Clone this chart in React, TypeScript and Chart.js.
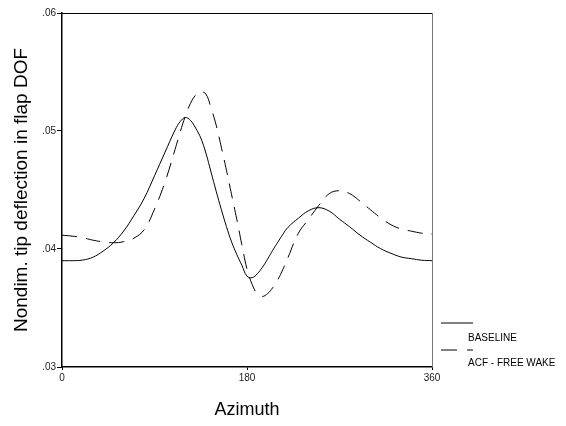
import React, { useEffect, useRef } from "react";
import { Chart, registerables } from "chart.js";

Chart.register(...registerables);

const azimuth = [
  0, 10, 20, 30, 40, 50, 60, 70, 80, 90, 100, 110, 115, 120, 125, 130, 135, 140, 145, 150, 155, 160,
  165, 170, 175, 180, 185, 190, 195, 200, 205, 210, 215, 220, 230, 240, 250, 260, 270, 280, 290, 300,
  310, 320, 330, 340, 350, 360,
];

const baseline = [
  0.03901, 0.03901, 0.03906, 0.0393, 0.03982, 0.04052, 0.04152, 0.04283, 0.0443, 0.0462, 0.04815,
  0.05008, 0.0508, 0.05114, 0.0509, 0.05025, 0.04941, 0.04813, 0.04652, 0.0449, 0.04335, 0.0419,
  0.0406, 0.03955, 0.03862, 0.0377, 0.03757, 0.0379, 0.03845, 0.03914, 0.03989, 0.04058, 0.04126,
  0.04185, 0.04261, 0.04325, 0.0435, 0.04321, 0.04253, 0.04187, 0.04117, 0.04058, 0.04003, 0.03964,
  0.03932, 0.03918, 0.03905, 0.03901,
];

const acfFreeWake = [
  0.04117, 0.04109, 0.04096, 0.04075, 0.0406, 0.04053, 0.04062, 0.04092, 0.04164, 0.04338, 0.04562,
  0.04844, 0.04991, 0.05126, 0.05234, 0.05304, 0.05332, 0.05313, 0.05195, 0.0505, 0.04863, 0.04668,
  0.0446, 0.04255, 0.04035, 0.0383, 0.037, 0.0362, 0.03598, 0.03622, 0.03672, 0.0374, 0.03829,
  0.0393, 0.04134, 0.04253, 0.04371, 0.04469, 0.04494, 0.04469, 0.04405, 0.04333, 0.04265, 0.04206,
  0.0417, 0.04151, 0.04134, 0.04126,
];

const xTicks = [0, 180, 360];
const yTicks = [0.03, 0.04, 0.05, 0.06];
const seriesNames = ["BASELINE", "ACF - FREE WAKE"];
const xTitle = "Azimuth";
const yTitle = "Nondim. tip deflection in flap DOF";

const FONT = "'Liberation Sans', Arial, Helvetica, sans-serif";

const decorPlugin = {
  id: "decor",
  afterDraw(chart: any) {
    const { ctx, chartArea } = chart;
    const { left, right, top, bottom } = chartArea;
    ctx.save();
    ctx.lineWidth = 1;
    ctx.strokeStyle = "#000";
    ctx.beginPath();
    ctx.moveTo(left, top + 0.5);
    ctx.lineTo(right, top + 0.5);
    ctx.stroke();
    ctx.strokeStyle = "#777";
    ctx.beginPath();
    ctx.moveTo(right + 0.5, top);
    ctx.lineTo(right + 0.5, bottom);
    ctx.stroke();

    ctx.fillStyle = "#000";
    ctx.font = `18px ${FONT}`;
    ctx.textAlign = "center";
    ctx.textBaseline = "middle";
    ctx.fillText(xTitle, (left + right) / 2, 410);
    ctx.save();
    ctx.translate(22, (top + bottom) / 2);
    ctx.rotate(-Math.PI / 2);
    ctx.font = `19px ${FONT}`;
    ctx.fillText(yTitle, 0, 0);
    ctx.restore();

    const lx0 = 441;
    const lx1 = 473;
    ctx.strokeStyle = "#000";
    ctx.lineWidth = 1;
    ctx.setLineDash([]);
    ctx.beginPath();
    ctx.moveTo(lx0, 323);
    ctx.lineTo(lx1, 323);
    ctx.stroke();
    ctx.setLineDash([16, 10]);
    ctx.beginPath();
    ctx.moveTo(lx0, 350);
    ctx.lineTo(lx1, 350);
    ctx.stroke();
    ctx.setLineDash([]);
    ctx.font = `10px ${FONT}`;
    ctx.textAlign = "left";
    ctx.fillText(seriesNames[0], 468, 338);
    ctx.fillText(seriesNames[1], 468, 363.5);
    ctx.restore();
  },
};

export default function App() {
  const ref = useRef<HTMLCanvasElement | null>(null);

  useEffect(() => {
    if (!ref.current) return;
    const chart = new Chart(ref.current, {
      type: "line",
      data: {
        datasets: [
          {
            label: seriesNames[0],
            data: azimuth.map((a, i) => ({ x: a, y: baseline[i] })),
            borderColor: "#000",
            borderWidth: 1,
            pointRadius: 0,
            fill: false,
            tension: 0.4,
          },
          {
            label: seriesNames[1],
            data: azimuth.map((a, i) => ({ x: a, y: acfFreeWake[i] })),
            borderColor: "#000",
            borderWidth: 1,
            borderDash: [15, 9],
            pointRadius: 0,
            fill: false,
            tension: 0.4,
          },
        ],
      },
      options: {
        responsive: false,
        animation: false,
        devicePixelRatio: 1,
        layout: { padding: { left: 0, right: 134, top: 13, bottom: 0 } },
        plugins: {
          legend: { display: false },
          tooltip: { enabled: false },
        },
        scales: {
          x: {
            type: "linear",
            min: 0,
            max: 360,
            afterBuildTicks: (scale: any) => {
              scale.ticks = xTicks.map((v) => ({ value: v }));
            },
            afterFit: (scale: any) => {
              scale.height = 59;
            },
            grid: {
              drawOnChartArea: false,
              drawTicks: true,
              tickLength: 3,
              color: "#000",
            },
            border: { display: true, color: "#000", width: 1.5 },
            ticks: {
              color: "#222",
              font: { size: 10, family: FONT },
              padding: 2,
              maxRotation: 0,
              callback: (v: any) => String(v),
            },
          },
          y: {
            type: "linear",
            min: yTicks[0],
            max: yTicks[yTicks.length - 1],
            afterBuildTicks: (scale: any) => {
              scale.ticks = yTicks.map((v) => ({ value: v }));
            },
            afterFit: (scale: any) => {
              scale.width = 62;
            },
            grid: {
              drawOnChartArea: false,
              drawTicks: true,
              tickLength: 5,
              color: "#000",
            },
            border: { display: true, color: "#000", width: 1.5 },
            ticks: {
              color: "#222",
              font: { size: 10, family: FONT },
              padding: 1,
              callback: (v: any) => Number(v).toFixed(2).replace(/^0/, ""),
            },
          },
        },
      },
      plugins: [decorPlugin],
    });
    return () => chart.destroy();
  }, []);

  return (
    <div style={{ position: "fixed", left: 0, top: 0, width: 566, height: 426, background: "#fff" }}>
      <canvas ref={ref} width={566} height={426} />
    </div>
  );
}
